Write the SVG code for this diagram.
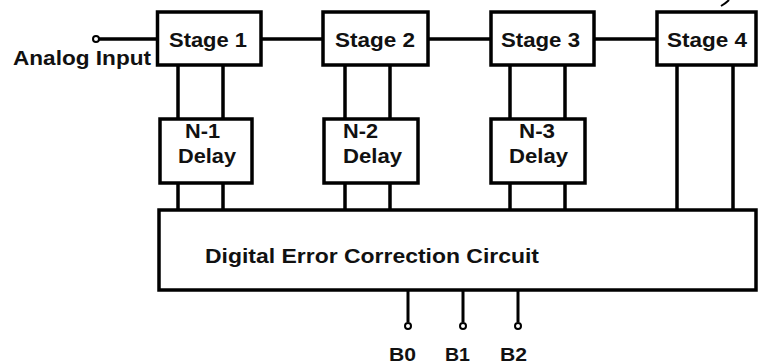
<svg xmlns="http://www.w3.org/2000/svg" width="758" height="364" viewBox="0 0 758 364">
<style>
.box{fill:#fff;stroke:#000;stroke-width:3.5}
.ln{fill:none;stroke:#000;stroke-width:3.5}
.term{fill:#fff;stroke:#000;stroke-width:2}
.t{font-family:"Liberation Sans",Arial,sans-serif;font-weight:bold;fill:#111}
.s{font-size:21px}
.b{font-size:19px}
</style>
<rect width="758" height="364" fill="#fff"/>
<g id="connectors">
<path class="ln" d="M99 39H157M261 39H323M428 39H491M594 39H657"/>
<path class="ln" d="M178 65V119M223 65V119M178 183V210M223 183V210"/>
<path class="ln" d="M345 65V119M390 65V119M345 183V210M390 183V210"/>
<path class="ln" d="M510 65V119M565 65V119M510 183V210M565 183V210"/>
<path class="ln" d="M677 65V210M733 65V210"/>
<path class="ln" style="stroke-width:3" d="M408 290V322M463 290V322M518 290V322"/>
<path fill="none" stroke="#000" stroke-width="2" d="M721 6Q726 3 729 0"/>
</g>
<g id="input">
<circle class="term" cx="96" cy="39" r="3"/>
<text class="t s" x="13" y="65" textLength="138" lengthAdjust="spacingAndGlyphs">Analog Input</text>
</g>
<g id="stage1">
<rect class="box" x="157.5" y="12" width="103.5" height="53"/>
<text class="t s" x="169" y="47" textLength="78" lengthAdjust="spacingAndGlyphs">Stage 1</text>
</g>
<g id="stage2">
<rect class="box" x="323" y="12" width="105" height="53"/>
<text class="t s" x="335" y="47" textLength="80" lengthAdjust="spacingAndGlyphs">Stage 2</text>
</g>
<g id="stage3">
<rect class="box" x="491" y="12" width="103" height="53"/>
<text class="t s" x="501" y="47" textLength="79" lengthAdjust="spacingAndGlyphs">Stage 3</text>
</g>
<g id="stage4">
<rect class="box" x="657" y="12" width="99" height="53"/>
<text class="t s" x="667" y="47" textLength="80" lengthAdjust="spacingAndGlyphs">Stage 4</text>
</g>
<g id="delay1">
<rect class="box" x="160" y="119" width="92" height="64"/>
<text class="t s" x="185" y="138" textLength="35" lengthAdjust="spacingAndGlyphs">N-1</text>
<text class="t s" x="178" y="163" textLength="58" lengthAdjust="spacingAndGlyphs">Delay</text>
</g>
<g id="delay2">
<rect class="box" x="324" y="119" width="94" height="64"/>
<text class="t s" x="343" y="138" textLength="35" lengthAdjust="spacingAndGlyphs">N-2</text>
<text class="t s" x="343" y="163" textLength="59" lengthAdjust="spacingAndGlyphs">Delay</text>
</g>
<g id="delay3">
<rect class="box" x="491" y="119" width="94" height="64"/>
<text class="t s" x="519" y="138" textLength="36" lengthAdjust="spacingAndGlyphs">N-3</text>
<text class="t s" x="509" y="163" textLength="59" lengthAdjust="spacingAndGlyphs">Delay</text>
</g>
<g id="correction">
<rect class="box" x="159" y="210" width="597" height="80"/>
<text class="t s" x="205" y="263" textLength="334" lengthAdjust="spacingAndGlyphs">Digital Error Correction Circuit</text>
</g>
<g id="outputs">
<circle class="term" cx="408" cy="326" r="3"/>
<circle class="term" cx="463" cy="326" r="3"/>
<circle class="term" cx="518" cy="326" r="3"/>
<text class="t b" x="389" y="361" textLength="27" lengthAdjust="spacingAndGlyphs">B0</text>
<text class="t b" x="445" y="361" textLength="25" lengthAdjust="spacingAndGlyphs">B1</text>
<text class="t b" x="500" y="361" textLength="27" lengthAdjust="spacingAndGlyphs">B2</text>
</g>
</svg>
